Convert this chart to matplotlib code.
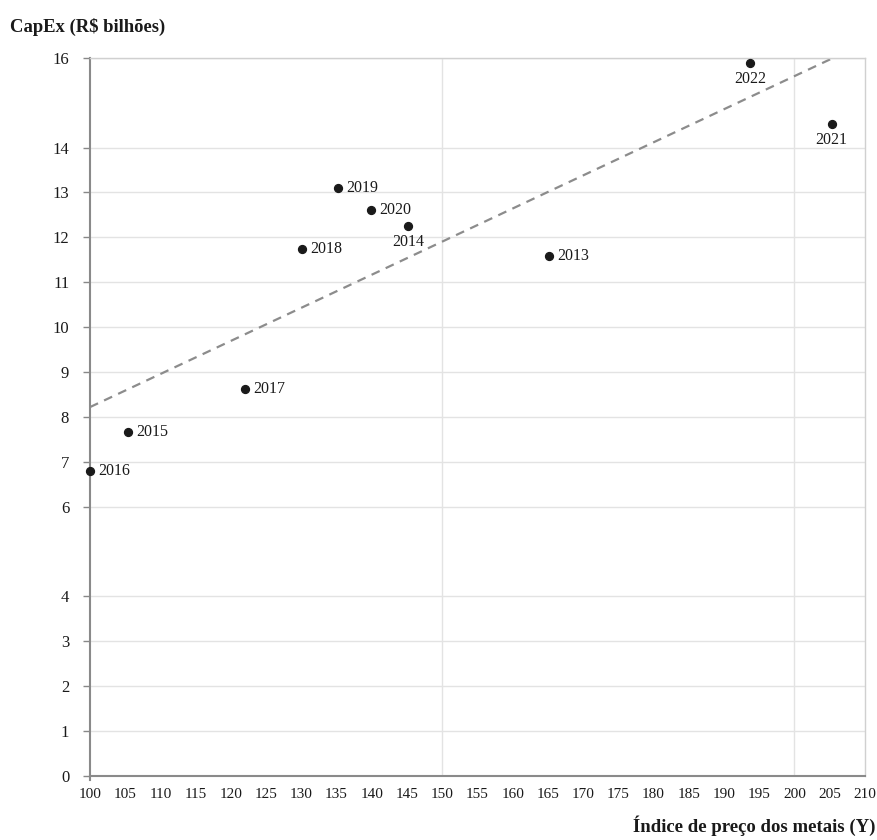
import matplotlib.pyplot as plt
import numpy as np

plt.rcParams["font.family"] = ["Liberation Serif", "DejaVu Serif"]

# índice de preço dos metais vs. CapEx anual
anos = ["2013", "2014", "2015", "2016", "2017", "2018", "2019", "2020", "2021", "2022"]
indice = [165.2, 145.2, 105.4, 100.0, 122.0, 130.1, 135.2, 139.9, 205.3, 193.7]
capex = [11.59, 12.25, 7.67, 6.80, 8.62, 11.73, 13.10, 12.61, 14.52, 15.88]
abaixo = ["2014", "2021", "2022"]

y_ticks = [0, 1, 2, 3, 4, 6, 7, 8, 9, 10, 11, 12, 13, 14, 16]
x_ticks = list(range(100, 215, 5))

fig = plt.figure(figsize=(8.78, 8.40), dpi=100)
ax = fig.add_axes([0.1025, 0.0762, 0.8825, 0.855])

# linhas de grade só onde a planilha original tinha
for yt in y_ticks[1:]:
    ax.axhline(yt, color="#e3e3e3", lw=1, zorder=0)
for xt in [150, 200]:
    ax.axvline(xt, color="#e3e3e3", lw=1, zorder=0)

# tendência linear (mínimos quadrados)
coef = np.polyfit(indice, capex, 1)
xs = np.array([100, 210])
ax.plot(xs, np.polyval(coef, xs), ls=(0, (4, 3)), color="#8c8c8c", lw=1.6, zorder=2)

ax.scatter(indice, capex, s=32, color="#1a1a1a", zorder=3, clip_on=False)
for ano, x, y in zip(anos, indice, capex):
    if ano in abaixo:
        ax.annotate(ano, (x, y), xytext=(0, -5.5), textcoords="offset points",
                    ha="center", va="top", fontsize=11.5, color="#1a1a1a")
    else:
        ax.annotate(ano, (x, y), xytext=(6, 0), textcoords="offset points",
                    ha="left", va="center", fontsize=11.5, color="#1a1a1a")

ax.set_xlim(100, 210)
ax.set_ylim(0, 16)
ax.set_xticks(x_ticks)
ax.set_yticks(y_ticks)
ax.tick_params(axis="x", length=0, pad=8.5, labelsize=11, colors="#1a1a1a")
ax.tick_params(axis="y", length=5, width=1, color="#888888", pad=10, labelsize=12,
               labelcolor="#1a1a1a")

for side in ["left", "bottom"]:
    ax.spines[side].set_color("#8a8a8a")
    ax.spines[side].set_linewidth(1.5)
# eixo vertical passa um pouco abaixo do zero
ax.spines["left"].set_bounds(-0.1, 16)
for side in ["top", "right"]:
    ax.spines[side].set_color("#d0d0d0")
    ax.spines[side].set_linewidth(1)

fig.text(0.011, 0.968, "CapEx (R$ bilhões)", fontsize=13.4, fontweight="bold",
         ha="left", va="center", color="#1a1a1a")
fig.text(0.9966, 0.0095, "Índice de preço dos metais (Y)", fontsize=13.5, fontweight="bold",
         ha="right", va="baseline", color="#1a1a1a")

fig.savefig("out.png", dpi=100, facecolor="white")
